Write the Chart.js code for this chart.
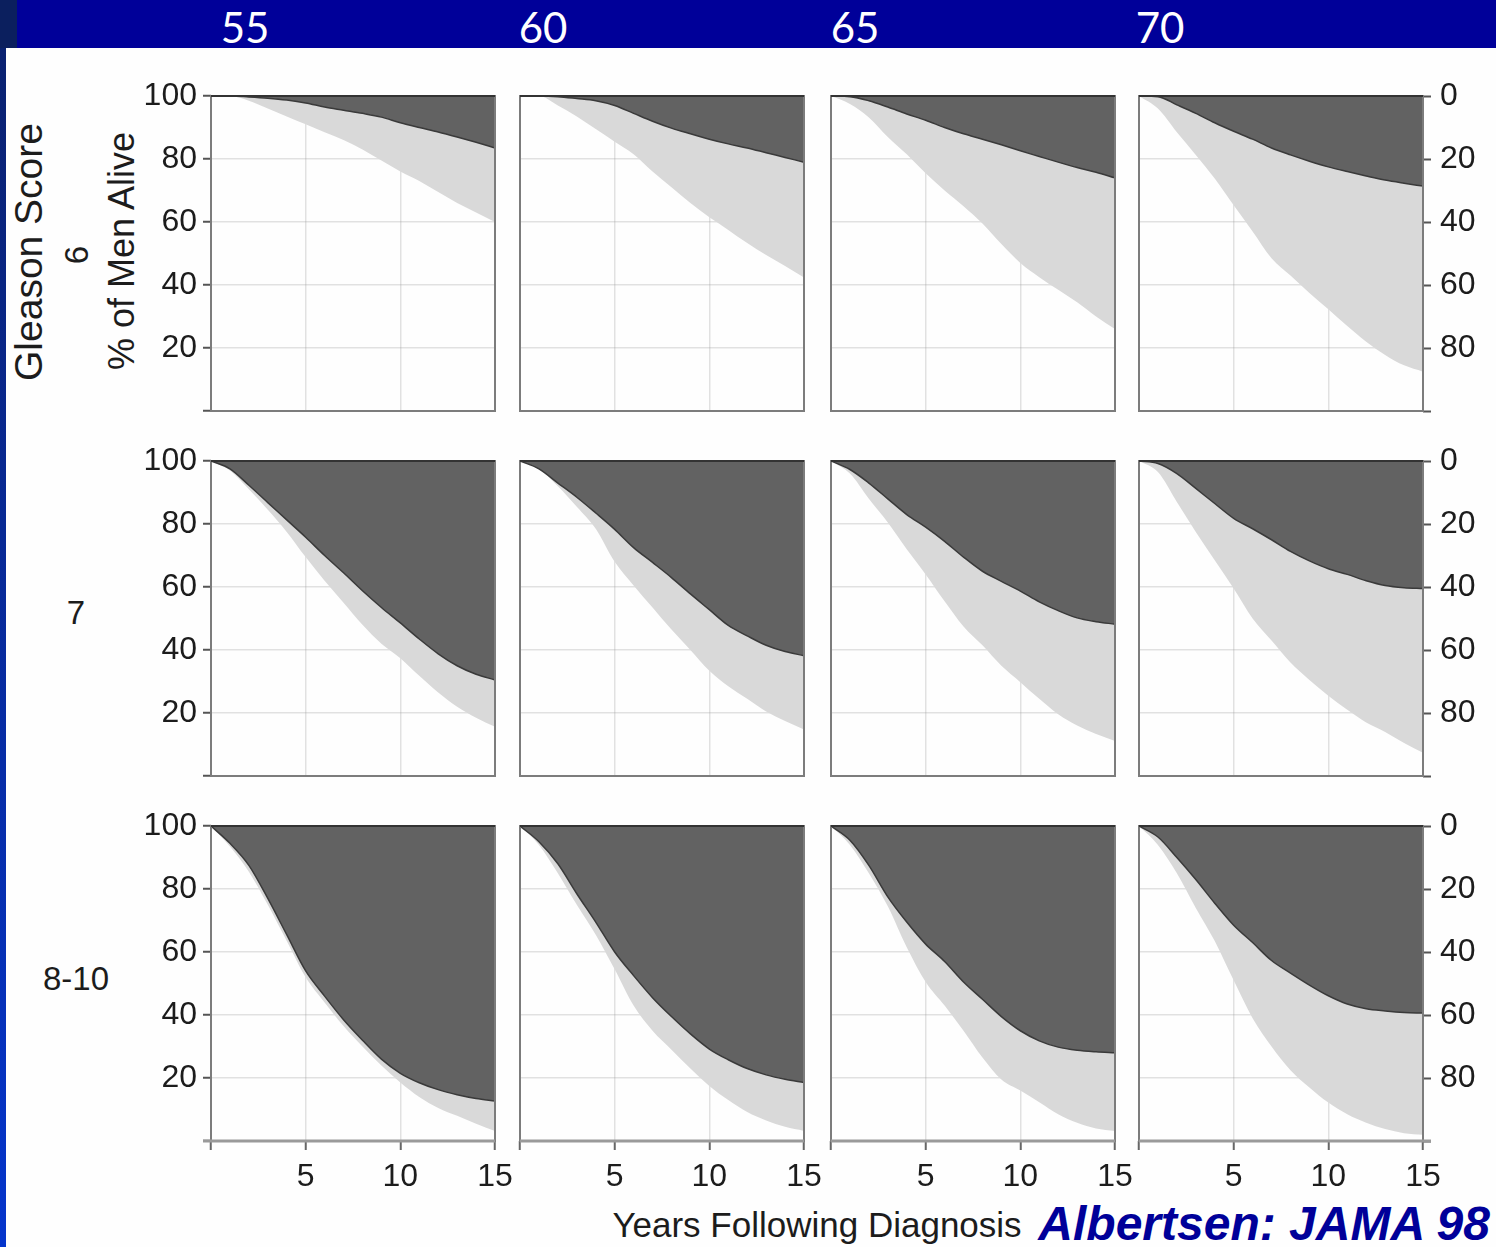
<!DOCTYPE html>
<html>
<head>
<meta charset="utf-8">
<title>Competing risk survival by Gleason score and age</title>
<script src="https://cdn.jsdelivr.net/npm/chart.js@4.4.1/dist/chart.umd.min.js"></script>
<style>
  html, body { margin: 0; padding: 0; }
  body {
    width: 1496px; height: 1247px; position: relative; overflow: hidden;
    background: #fefefe; color: #1c1c1c;
    font-family: "Liberation Sans", Arial, sans-serif;
  }
  #band { position: absolute; left: 0; top: 0; width: 1496px; height: 48px; background: #000099; }
  #corner { position: absolute; left: 0; top: 0; width: 17px; height: 48px; background: #0b1f5e; }
  #strip { position: absolute; left: 0; top: 48px; width: 6px; height: 1199px; background: linear-gradient(#0a2170, #0535cc); }
  .age { position: absolute; font-family: Lato, "Open Sans", sans-serif; font-size: 42px; line-height: 1; color: #fff; transform: translate(-50%, -50%); }
  .lab { position: absolute; line-height: 1; white-space: nowrap; transform: translate(-50%, -50%); }
  .rot { position: absolute; line-height: 1; white-space: nowrap; transform: translate(-50%, -50%) rotate(-90deg); }
  canvas { position: absolute; }
  #cite { position: absolute; right: 6px; top: 1224px; transform: translateY(-50%); line-height: 1;
          font-size: 48px; font-weight: bold; font-style: italic; color: #000099; white-space: nowrap; }
</style>
</head>
<body>
<div id="band"></div>
<div id="corner"></div>
<div id="strip"></div>
<div id="chrome"></div>
<div id="cite">Albertsen: JAMA 98</div>

<script>
// years after diagnosis, one point per year
const years = [0, 1, 2, 3, 4, 5, 6, 7, 8, 9, 10, 11, 12, 13, 14, 15];
const ages = ['55', '60', '65', '70'];
const gleason = ['6', '7', '8-10'];
const leftTicks = [20, 40, 60, 80, 100];
const rightTicks = [0, 20, 40, 60, 80];
const xTicks = [5, 10, 15];

// cumulative % dead of prostate cancer (dark band, read on the right axis)
const pcaDeaths6_55   = [0, 0, 0.3, 0.7, 1.3, 2.2, 3.5, 4.5, 5.5, 6.7, 8.5, 10, 11.4, 13, 14.7, 16.5];
const pcaDeaths6_60   = [0, 0, 0.2, 0.8, 1.5, 3, 5.5, 8, 10.2, 12, 13.7, 15.2, 16.5, 18, 19.5, 21];
const pcaDeaths6_65   = [0, 0.2, 1.5, 3.5, 5.7, 7.7, 10, 12, 13.7, 15.5, 17.4, 19.2, 21, 22.7, 24.2, 26];
const pcaDeaths6_70   = [0, 0.2, 2.8, 5.5, 8.5, 11.2, 13.7, 16.5, 18.7, 20.7, 22.5, 24, 25.4, 26.7, 27.7, 28.6];
const pcaDeaths7_55   = [0, 2.5, 7.7, 13.2, 18.7, 24.2, 30, 35.5, 41.2, 46.5, 51.4, 56.5, 61.2, 65, 67.7, 69.5];
const pcaDeaths7_60   = [0, 2.5, 7, 11.5, 16.5, 21.7, 27.5, 32.2, 37, 42.2, 47.2, 52.2, 55.5, 58.5, 60.5, 61.8];
const pcaDeaths7_65   = [0, 2.7, 7, 12, 17, 21, 25.5, 30.5, 35, 38.2, 41.3, 44.7, 47.5, 49.8, 51, 51.8];
const pcaDeaths7_70   = [0, 0.8, 4, 8.7, 13.5, 18.2, 21.5, 25, 28.7, 31.7, 34.2, 36, 38, 39.5, 40.2, 40.5];
const pcaDeaths810_55 = [0, 5.5, 12.5, 23, 34.5, 46, 54, 61.5, 68, 74, 78.5, 81.5, 83.7, 85.3, 86.5, 87.3];
const pcaDeaths810_60 = [0, 5, 12, 21.5, 30.5, 40, 47.5, 54.5, 60.5, 66, 70.8, 74.2, 77, 79, 80.4, 81.4];
const pcaDeaths810_65 = [0, 4.5, 12.5, 22.5, 30.5, 37.5, 43, 49.5, 55, 60.5, 65, 68.2, 70.2, 71.2, 71.7, 72];
const pcaDeaths810_70 = [0, 3.5, 10, 17, 24.5, 31.5, 37, 42.7, 46.7, 50.5, 53.9, 56.5, 58, 58.7, 59.2, 59.4];

// % of men alive (white area, read on the left axis)
const alive6_55   = [100, 100, 98.5, 96, 93.5, 91, 88.5, 86, 83, 79.5, 76, 73, 69.5, 66, 63, 60];
const alive6_60   = [100, 100, 97, 93.5, 89.5, 85.5, 81.5, 76, 71, 66, 61.5, 57.5, 53.3, 49.5, 46, 42.4];
const alive6_65   = [100, 97.5, 93.2, 87, 81.5, 75.5, 70, 65, 59.5, 53, 47, 42.5, 38.5, 34.5, 30, 26];
const alive6_70   = [100, 96, 88.5, 81.3, 73.8, 65.3, 57, 48.5, 43, 37.5, 32.3, 27, 22, 17.8, 14.5, 12.5];
const alive7_55   = [100, 97, 91, 84.5, 77.5, 69.5, 62, 55, 48, 42, 37.4, 31.8, 26.5, 22, 18.5, 15.6];
const alive7_60   = [100, 97.5, 92, 85.5, 78.5, 68, 60.5, 53.5, 46.5, 40, 33.4, 28.5, 24.5, 20.5, 17.5, 14.8];
const alive7_65   = [100, 96, 88, 80.5, 72, 64, 55.5, 47.5, 41.5, 35, 29.8, 24.5, 19.6, 16, 13.3, 11.1];
const alive7_70   = [100, 96.5, 87, 77.5, 68.5, 59.5, 50, 43, 36, 30.5, 25.5, 21, 17, 14, 10.5, 7.4];
const alive810_55 = [100, 93.5, 85.5, 75, 63.5, 52, 44, 36.5, 30, 24, 18.6, 14, 10.5, 8, 5.5, 3.2];
const alive810_60 = [100, 94, 85, 75, 65.5, 54.5, 43, 35, 29, 23, 17.5, 13, 9.2, 6.5, 4.5, 3.2];
const alive810_65 = [100, 94, 85, 74.5, 61.5, 50.5, 43, 35, 26.5, 19.5, 16, 12.3, 8.5, 5.8, 4, 3.2];
const alive810_70 = [100, 94, 85, 74, 63.5, 51, 39, 30, 22.5, 17, 12.2, 8.5, 5.8, 3.8, 2.5, 2];

const pcaGrid = [
  [pcaDeaths6_55, pcaDeaths6_60, pcaDeaths6_65, pcaDeaths6_70],
  [pcaDeaths7_55, pcaDeaths7_60, pcaDeaths7_65, pcaDeaths7_70],
  [pcaDeaths810_55, pcaDeaths810_60, pcaDeaths810_65, pcaDeaths810_70]
];
const aliveGrid = [
  [alive6_55, alive6_60, alive6_65, alive6_70],
  [alive7_55, alive7_60, alive7_65, alive7_70],
  [alive810_55, alive810_60, alive810_65, alive810_70]
];

// panel geometry
const colX = [211, 520, 831, 1139];
const rowY = [96, 461, 826];
const plotW = 284, plotH = 315;
const ML = 75, MR = 75, MT = 34, MB = 65;

const tickFont = { family: '"Liberation Sans", Arial, sans-serif', size: 32 };
const ink = '#1c1c1c';
const gridColor = 'rgba(150,150,150,0.28)';

// box around each plot area, darker along the top; the bottom row gets a heavier x axis
const framePlugin = {
  id: 'frame',
  afterDraw(chart, args, opts) {
    const { ctx, chartArea: a } = chart;
    ctx.save();
    ctx.lineWidth = 2;
    ctx.strokeStyle = '#7c7c7c';
    ctx.strokeRect(a.left, a.top, a.right - a.left, a.bottom - a.top);
    ctx.strokeStyle = '#333';
    ctx.beginPath();
    ctx.moveTo(a.left, a.top);
    ctx.lineTo(a.right, a.top);
    ctx.stroke();
    if (opts.axis) {
      ctx.strokeStyle = '#9a9a9a';
      ctx.lineWidth = 3;
      ctx.beginPath();
      ctx.moveTo(a.left - (opts.first ? 8 : 0), a.bottom);
      ctx.lineTo(a.right + (opts.last ? 8 : 0), a.bottom);
      ctx.stroke();
    }
    ctx.restore();
  }
};

const chrome = document.getElementById('chrome');
function addText(cls, text, x, y, size) {
  const d = document.createElement('div');
  d.className = cls;
  d.textContent = text;
  d.style.left = x + 'px';
  d.style.top = y + 'px';
  if (size) d.style.fontSize = size + 'px';
  chrome.appendChild(d);
}

[245, 543, 855, 1160].forEach((x, i) => addText('age', ages[i], x, 27));
addText('rot', 'Gleason Score', 28, 252, 39);
addText('rot', gleason[0], 76, 255, 33);
addText('rot', '% of Men Alive', 122, 251, 36);
addText('lab', gleason[1], 76, 612, 33);
addText('lab', gleason[2], 76, 978, 33);
addText('lab', 'Years Following Diagnosis', 817, 1224, 35);

for (let r = 0; r < 3; r++) {
  for (let c = 0; c < 4; c++) {
    const canvas = document.createElement('canvas');
    canvas.width = ML + plotW + MR;
    canvas.height = MT + plotH + MB;
    canvas.style.left = (colX[c] - ML) + 'px';
    canvas.style.top = (rowY[r] - MT) + 'px';
    document.body.appendChild(canvas);

    const pca = pcaGrid[r][c];
    const alive = aliveGrid[r][c];
    const firstCol = c === 0, lastCol = c === 3, lastRow = r === 2;

    new Chart(canvas, {
      type: 'line',
      data: {
        datasets: [
          {
            label: 'Died of prostate cancer',
            data: years.map((x, i) => ({ x: x, y: 100 - pca[i] })),
            fill: 'end',
            backgroundColor: '#626262',
            borderColor: '#3a3a3a',
            borderWidth: 1.5,
            pointRadius: 0,
            cubicInterpolationMode: 'monotone'
          },
          {
            label: 'Died of other causes',
            data: years.map((x, i) => ({ x: x, y: alive[i] })),
            fill: '-1',
            backgroundColor: '#d9d9d9',
            borderWidth: 0,
            pointRadius: 0,
            cubicInterpolationMode: 'monotone'
          }
        ]
      },
      options: {
        responsive: false,
        animation: false,
        events: [],
        layout: { padding: { top: MT, left: 0, right: 0, bottom: 0 } },
        plugins: {
          legend: { display: false },
          tooltip: { enabled: false },
          frame: { axis: lastRow, first: firstCol, last: lastCol }
        },
        scales: {
          x: {
            type: 'linear', min: 0, max: 15, z: 1,
            afterFit: s => { s.height = MB; },
            border: { display: false },
            grid: {
              color: ctx => (ctx.tick.value === 0 || ctx.tick.value === 15) ? 'rgba(0,0,0,0)' : gridColor,
              lineWidth: 1.5,
              drawTicks: lastRow, tickLength: 9, tickColor: '#666', tickWidth: 2
            },
            ticks: {
              display: lastRow, stepSize: 5, padding: 8, color: ink, font: tickFont,
              maxRotation: 0, autoSkip: false,
              callback: v => xTicks.includes(v) ? String(v) : ''
            }
          },
          y: {
            position: 'left', min: 0, max: 100, z: 1,
            afterFit: s => { s.width = ML; },
            border: { display: false },
            grid: {
              color: ctx => (ctx.tick.value === 0 || ctx.tick.value === 100) ? 'rgba(0,0,0,0)' : gridColor,
              lineWidth: 1.5,
              drawTicks: firstCol, tickLength: 8, tickColor: '#555', tickWidth: 2
            },
            ticks: {
              display: firstCol, stepSize: 20, padding: 6, color: ink, font: tickFont,
              autoSkip: false,
              callback: v => leftTicks.includes(v) ? String(v) : ''
            }
          },
          y2: {
            position: 'right', min: 0, max: 100, reverse: true, z: 1,
            afterFit: s => { s.width = MR; },
            border: { display: false },
            grid: {
              drawOnChartArea: false,
              drawTicks: lastCol, tickLength: 8, tickColor: '#555', tickWidth: 2
            },
            ticks: {
              display: lastCol, stepSize: 20, padding: 9, color: ink, font: tickFont,
              autoSkip: false,
              callback: v => rightTicks.includes(v) ? String(v) : ''
            }
          }
        }
      },
      plugins: [framePlugin]
    });
  }
}
</script>
</body>
</html>
